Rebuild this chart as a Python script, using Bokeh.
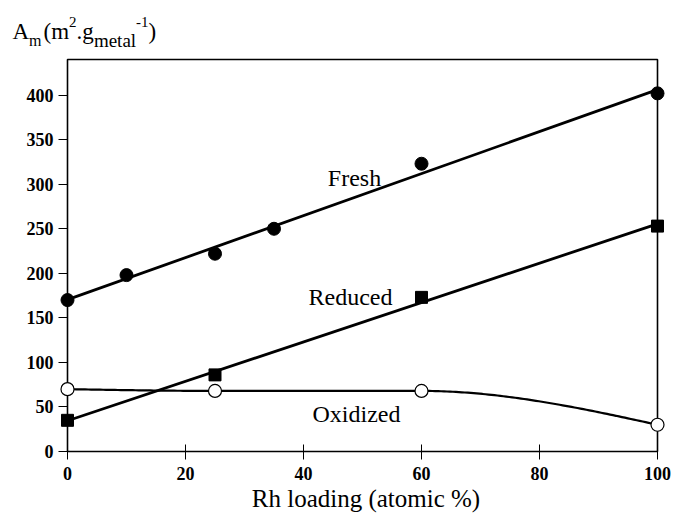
import numpy as np
from bokeh.plotting import figure
from bokeh.layouts import column
from bokeh.models import Range1d, FixedTicker, Label, Div
from bokeh.embed import file_html
from bokeh.resources import INLINE

# ---------------- data ----------------
x_fresh = [0, 10, 25, 35, 60, 100]
y_fresh = [170, 198, 222, 250, 323, 402]

x_reduced = [0, 25, 60, 100]
y_reduced = [35, 86, 173, 253]

x_oxidized = [0, 25, 60, 100]
y_oxidized = [70, 68, 68, 30]

x_ticks = [0, 20, 40, 60, 80, 100]
y_ticks = [0, 50, 100, 150, 200, 250, 300, 350, 400]

x_title = "Rh loading (atomic %)"
series_names = ["Fresh", "Reduced", "Oxidized"]

# ---------------- geometry ----------------
W, H = 673, 513
TOP_H = 50                                        # height of the title strip
BOX_L, BOX_R, BOX_T, BOX_B = 67, 657, 59, 451     # pixel box of the axes (page coords)
XMIN, XMAX = 0, 100
YMIN, YMAX = 0, 440
PAD_L, PAD_R, PAD_T, PAD_B = 9, 9, 9, 8
BOTTOM_BORDER = 30
FIG_H = (BOX_B + PAD_B + BOTTOM_BORDER) - TOP_H
BOT_H = H - TOP_H - FIG_H
sx = (BOX_R - BOX_L) / (XMAX - XMIN)
sy = (BOX_B - BOX_T) / (YMAX - YMIN)


def dx(px):
    return XMIN + (px - BOX_L) / sx


def dy(py):
    return YMIN + (BOX_B - py) / sy


SERIF = "Liberation Serif"

p = figure(width=W, height=FIG_H, output_backend="svg", toolbar_location=None,
           title=None,
           x_range=Range1d(dx(BOX_L - PAD_L), dx(BOX_R + PAD_R)),
           y_range=Range1d(dy(BOX_B + PAD_B), dy(BOX_T - PAD_T)),
           min_border_left=BOX_L - PAD_L, min_border_right=W - BOX_R - PAD_R,
           min_border_top=BOX_T - PAD_T - TOP_H, min_border_bottom=BOTTOM_BORDER)
p.outline_line_color = None
p.background_fill_color = "white"
p.border_fill_color = "white"
p.grid.visible = False

for ax in (p.xaxis[0], p.yaxis[0]):
    ax.axis_line_color = None
    ax.minor_tick_line_color = None
    ax.major_tick_line_color = "black"
    ax.major_tick_line_width = 1
    ax.major_tick_out = 0
    ax.major_label_text_font = SERIF
    ax.major_label_text_font_style = "bold"
    ax.major_label_text_font_size = "18px"
    ax.major_label_text_color = "black"

p.xaxis[0].ticker = FixedTicker(ticks=x_ticks)
p.yaxis[0].ticker = FixedTicker(ticks=y_ticks)
p.xaxis[0].major_tick_in = PAD_B + 7
p.yaxis[0].major_tick_in = PAD_L
p.xaxis[0].major_label_standoff = 7
p.yaxis[0].major_label_standoff = 5

# axes box
p.quad(left=[XMIN], right=[XMAX], bottom=[YMIN], top=[YMAX],
       fill_color=None, line_color="black", line_width=1.6)

# fitted straight lines
for xs, ys in ((x_fresh, y_fresh), (x_reduced, y_reduced)):
    k, b = np.polyfit(xs, ys, 1)
    xl = np.array([XMIN, XMAX], dtype=float)
    p.line(xl, k * xl + b, line_color="black", line_width=2.8)


# smooth monotone curve through the oxidized points
def pchip(xk, yk, xs):
    xk = np.asarray(xk, float)
    yk = np.asarray(yk, float)
    h = np.diff(xk)
    d = np.diff(yk) / h
    n = len(xk)
    m = np.zeros(n)
    for i in range(1, n - 1):
        if d[i - 1] * d[i] > 0:
            w1 = 2 * h[i] + h[i - 1]
            w2 = h[i] + 2 * h[i - 1]
            m[i] = (w1 + w2) / (w1 / d[i - 1] + w2 / d[i])
    m0 = ((2 * h[0] + h[1]) * d[0] - h[0] * d[1]) / (h[0] + h[1])
    if np.sign(m0) != np.sign(d[0]):
        m0 = 0
    m[0] = m0
    mn = ((2 * h[-1] + h[-2]) * d[-1] - h[-1] * d[-2]) / (h[-1] + h[-2])
    if np.sign(mn) != np.sign(d[-1]):
        mn = 0
    m[-1] = mn
    out = np.empty_like(xs)
    for j, x in enumerate(xs):
        i = min(np.searchsorted(xk, x, side="right") - 1, n - 2)
        t = (x - xk[i]) / h[i]
        h00 = 2 * t**3 - 3 * t**2 + 1
        h10 = t**3 - 2 * t**2 + t
        h01 = -2 * t**3 + 3 * t**2
        h11 = t**3 - t**2
        out[j] = h00 * yk[i] + h10 * h[i] * m[i] + h01 * yk[i + 1] + h11 * h[i] * m[i + 1]
    return out


xc = np.linspace(min(x_oxidized), max(x_oxidized), 200)
p.line(xc, pchip(x_oxidized, y_oxidized, xc), line_color="black", line_width=2.2)

# markers
p.scatter(x_fresh, y_fresh, marker="circle", size=13, fill_color="black", line_color="black")
p.scatter(x_reduced, y_reduced, marker="square", size=12, fill_color="black", line_color="black")
p.scatter(x_oxidized, y_oxidized, marker="circle", size=13, fill_color="white",
          line_color="black", line_width=1.2)

# series labels
for name, cx, by in zip(series_names, (354, 350, 356), (177, 296.5, 413)):
    p.add_layout(Label(x=dx(cx), y=dy(by), text=name, text_align="center",
                       text_baseline="alphabetic", text_font=SERIF,
                       text_font_size="24px", text_color="black"))


# ---------------- title strip: A_m (m^2.g_metal^-1) ----------------
ADV = {"A": .722, "m": .778, "(": .333, ")": .333, "2": .5, ".": .25, "g": .5,
       "e": .444, "t": .278, "a": .444, "l": .278, "-": .333, "1": .5, " ": .25}
MAIN, SUB, SUP = 23, 16, 15
pieces = [("A", MAIN, 39.5, 0), ("m", SUB, 46.5, 0), ("(m", MAIN, 39.5, 2),
          ("2", SUP, 27.5, 0), (".g", MAIN, 39.5, 0), ("metal", 19, 46.5, 0),
          ("-1", SUP, 27.5, 0), (")", MAIN, 39.5, 0)]


def abs_span(t, left, top, fs, extra=""):
    return (f'<span style="position:absolute; left:{left:.1f}px; top:{top:.1f}px; '
            f'font-family:\'{SERIF}\'; font-size:{fs}px; line-height:{fs}px; '
            f'white-space:nowrap; color:black;{extra}">{t}</span>')


spans = []
xpos = 12.5
for t, fs, base, gap in pieces:
    xpos += gap
    spans.append(abs_span(t, xpos, base - 0.8375 * fs, fs))
    xpos += sum(ADV[c] for c in t) * fs
title_html = (f'<div style="position:relative; width:{W}px; height:{TOP_H}px; '
              f'overflow:visible;">' + "".join(spans) + '</div>')
title_div = Div(text=title_html, width=W, height=TOP_H, margin=0,
                styles={"overflow": "visible"})

# ---------------- x-axis title strip ----------------
XT_FS = 25
xt_top = 507 - 0.8375 * XT_FS - (TOP_H + FIG_H)
xt_html = (f'<div style="position:relative; width:{W}px; height:{BOT_H}px; overflow:visible;">'
           + abs_span(x_title, 366 - 200, xt_top, XT_FS,
                      " width:400px; text-align:center;")
           + '</div>')
xt_div = Div(text=xt_html, width=W, height=BOT_H, margin=0, styles={"overflow": "visible"})

layout = column(title_div, p, xt_div, spacing=0)
open("out.html", "w").write(file_html(layout, INLINE))
